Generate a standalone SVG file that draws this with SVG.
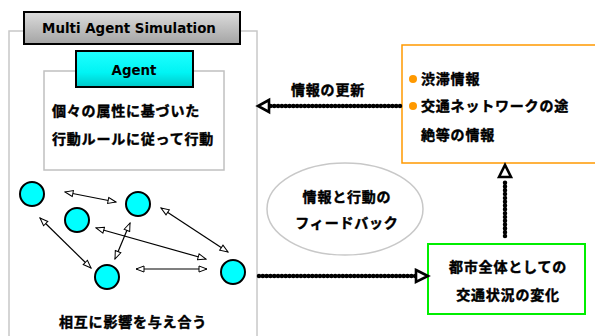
<svg xmlns="http://www.w3.org/2000/svg" width="595" height="336" viewBox="0 0 595 336">
<defs>
<linearGradient id="gGrey" x1="0" y1="0" x2="0" y2="1">
<stop offset="0" stop-color="#dcdcdc"/>
<stop offset="0.5" stop-color="#c0c0c0"/>
<stop offset="1" stop-color="#a4a4a4"/>
</linearGradient>
<linearGradient id="gCyan" x1="0" y1="0" x2="0" y2="1">
<stop offset="0" stop-color="#20ffff"/>
<stop offset="0.6" stop-color="#00f4f4"/>
<stop offset="1" stop-color="#00c8c8"/>
</linearGradient>
<marker id="small" viewBox="0 0 10 8" refX="9" refY="4" markerWidth="10" markerHeight="8" markerUnits="userSpaceOnUse" orient="auto-start-reverse">
<path d="M1,1 L9,4 L1,7 Z" fill="#fff" stroke="#000" stroke-width="1"/>
</marker>
</defs>
<style>
.jp{font-family:"Noto Sans CJK JP","Noto Sans",sans-serif;font-weight:bold;font-size:14px;fill:#000;stroke:#000;stroke-width:0.45px;letter-spacing:0.8px}
.en{font-family:"DejaVu Sans",Verdana,sans-serif;font-weight:bold;fill:#000}
.dot{fill:none;stroke:#000;stroke-width:4.5;stroke-linecap:round;stroke-dasharray:0.01 3.8}
.head{fill:#fff;stroke:#000;stroke-width:2.6;stroke-linejoin:miter}
.thin{fill:none;stroke:#000;stroke-width:1.2}
.agent{fill:#00ffff;stroke:#000;stroke-width:2}
</style>

<g id="simulation">
<rect x="9" y="31" width="248" height="320" fill="#fff" stroke="#c8c8c8" stroke-width="1.5"/>
<rect x="24" y="12" width="216" height="32" fill="url(#gGrey)" stroke="#000" stroke-width="2"/>
<text class="en" x="129" y="33" font-size="13.4" text-anchor="middle">Multi Agent Simulation</text>
</g>

<g id="agent-box">
<rect x="44" y="71" width="180" height="99" fill="#fff" stroke="#c0c0c0" stroke-width="1.5"/>
<rect x="76" y="51" width="117" height="36" fill="url(#gCyan)" stroke="#000" stroke-width="2"/>
<text class="en" x="134" y="75" font-size="13.4" text-anchor="middle">Agent</text>
<text class="jp" x="52" y="116">個々の属性に基づいた</text>
<text class="jp" x="52" y="144">行動ルールに従って行動</text>
</g>

<g id="agents">
<circle class="agent" cx="32" cy="194" r="12"/>
<circle class="agent" cx="138" cy="204" r="12"/>
<circle class="agent" cx="77" cy="220" r="12"/>
<circle class="agent" cx="107" cy="277" r="12"/>
<circle class="agent" cx="233" cy="272" r="12"/>
<text class="jp" x="133" y="327" text-anchor="middle">相互に影響を与え合う</text>
</g>

<g id="interactions">
<line class="thin" x1="65" y1="192" x2="116" y2="202" marker-start="url(#small)" marker-end="url(#small)"/>
<line class="thin" x1="40" y1="218" x2="91" y2="268" marker-start="url(#small)" marker-end="url(#small)"/>
<line class="thin" x1="96" y1="228" x2="206" y2="259" marker-start="url(#small)" marker-end="url(#small)"/>
<line class="thin" x1="130" y1="223" x2="115" y2="259" marker-start="url(#small)" marker-end="url(#small)"/>
<line class="thin" x1="161" y1="208" x2="228" y2="252" marker-start="url(#small)" marker-end="url(#small)"/>
<line class="thin" x1="136" y1="269" x2="207" y2="269" marker-start="url(#small)" marker-end="url(#small)"/>
</g>

<g id="info-box">
<rect x="402" y="45" width="200" height="118" fill="#fff" stroke="#ff9900" stroke-width="1.5"/>
<circle cx="413" cy="79" r="4" fill="#ff9900"/>
<circle cx="413" cy="106" r="4" fill="#ff9900"/>
<text class="jp" x="421" y="84">渋滞情報</text>
<text class="jp" x="421" y="111">交通ネットワークの途</text>
<text class="jp" x="421" y="140">絶等の情報</text>
</g>

<g id="feedback">
<ellipse cx="345" cy="209" rx="78" ry="46" fill="#fff" stroke="#c8c8c8" stroke-width="1.5"/>
<text class="jp" x="347" y="202" text-anchor="middle">情報と行動の</text>
<text class="jp" x="347" y="228" text-anchor="middle">フィードバック</text>
</g>

<g id="city">
<rect x="428" y="244" width="157" height="70" fill="#fff" stroke="#00ee00" stroke-width="2"/>
<text class="jp" x="508" y="272" text-anchor="middle">都市全体としての</text>
<text class="jp" x="508" y="300" text-anchor="middle">交通状況の変化</text>
</g>

<g id="connectors">
<text class="jp" x="328" y="95" text-anchor="middle">情報の更新</text>
<line class="dot" x1="400" y1="106" x2="267" y2="106"/>
<path class="head" d="M269,100 L258,106 L269,112 Z"/>
<line class="dot" x1="259" y1="276" x2="417" y2="276"/>
<path class="head" d="M416,270 L428,276 L416,282 Z"/>
<line class="dot" x1="505" y1="236" x2="505" y2="180"/>
<path class="head" d="M499,177 L505,165 L511,177 Z"/>
</g>
</svg>
